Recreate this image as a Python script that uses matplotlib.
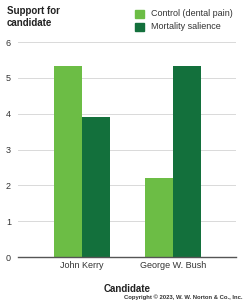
import matplotlib
matplotlib.use("Agg")
import matplotlib.pyplot as plt
import numpy as np
from matplotlib.patches import Rectangle

plt.rcParams['font.family'] = ['Liberation Sans', 'DejaVu Sans']

candidates = ["John Kerry", "George W. Bush"]
control = [5.32, 2.2]
mortality = [3.9, 5.32]
series_names = ["Control (dental pain)", "Mortality salience"]
colors = ["#6cbd45", "#13703c"]
yticks = [0, 1, 2, 3, 4, 5, 6]

fig = plt.figure(figsize=(2.43, 3.0), dpi=100)
ax = fig.add_axes([0.074, 0.143, 0.897, 0.717])

x = np.arange(len(candidates))
w = 0.31
ax.bar(x - w/2, control, width=w, color=colors[0], zorder=3)
ax.bar(x + w/2, mortality, width=w, color=colors[1], zorder=3)

ax.set_xlim(-0.70, 1.69)
ax.set_ylim(0, 6)
ax.set_yticks(yticks)
ax.set_yticklabels([str(t) for t in yticks], fontsize=6.5, color="#333333")
ax.set_xticks(x)
ax.set_xticklabels(candidates, fontsize=6.5, color="#333333")
ax.tick_params(length=0, pad=3)
ax.tick_params(axis='y', pad=5)
ax.grid(axis='y', color="#d9d9d9", linewidth=0.7, zorder=0)
for s in ["top", "right", "left"]:
    ax.spines[s].set_visible(False)
ax.spines["bottom"].set_color("#555555")
ax.spines["bottom"].set_linewidth(1.0)
ax.spines["bottom"].set_zorder(4)

fig.text(7/243, 1 - 6/300, "Support for\ncandidate", fontsize=7, fontweight="bold",
         va="top", ha="left", color="#222222", linespacing=1.2)

# legend
for i, (name, c) in enumerate(zip(series_names, colors)):
    y0 = 1 - (10 + i * 12.5) / 300
    fig.patches.append(Rectangle((135/243, y0 - 8/300), 9/243, 8/300,
                                 transform=fig.transFigure, color=c, figure=fig))
    fig.text(151/243, y0 - 4/300, name, fontsize=6.5, va="center", ha="left", color="#333333")

fig.text(127/243, 1 - 288.5/300, "Candidate", fontsize=7, fontweight="bold",
         ha="center", va="center", color="#222222")
fig.text(242/243, 1 - 297.3/300, "Copyright © 2023, W. W. Norton & Co., Inc.", fontsize=4.2,
         fontweight="bold", ha="right", va="center", color="#333333")

fig.savefig("out.png", dpi=100)
